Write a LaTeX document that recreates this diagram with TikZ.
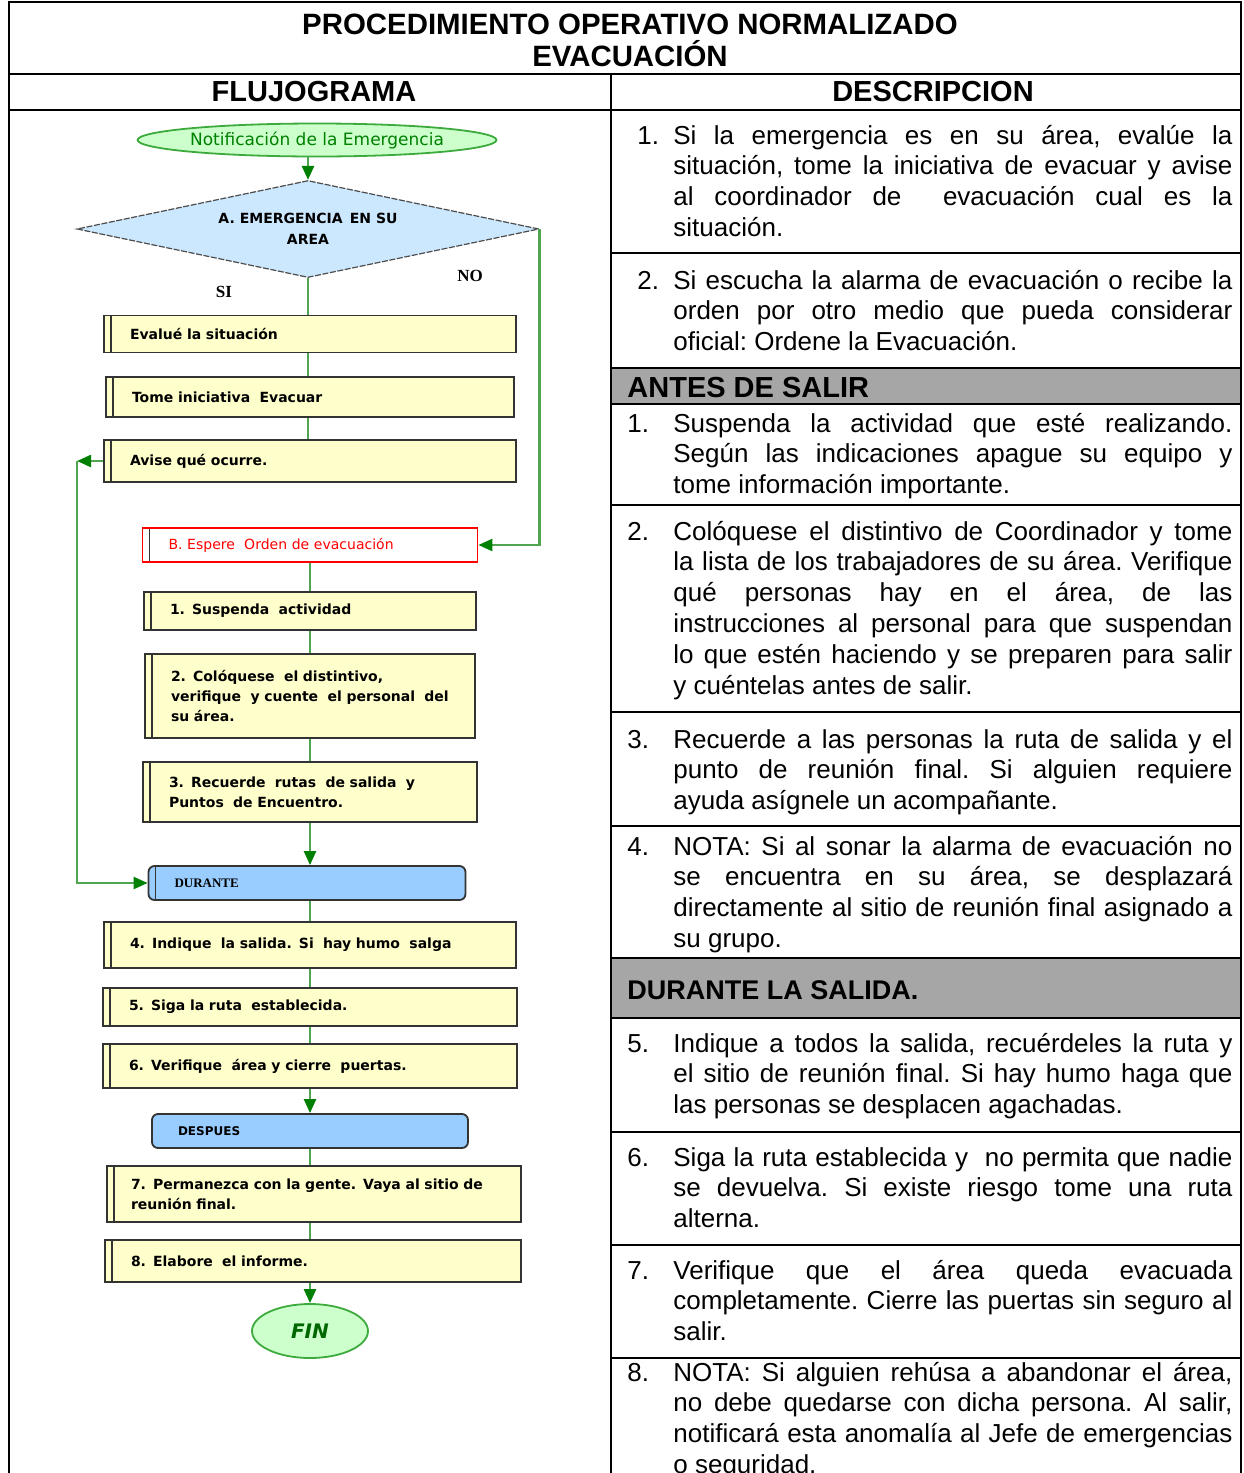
\documentclass[tikz,border=0pt]{standalone}
\usepackage{fontspec}
\setmainfont{Liberation Sans}
\newfontfamily\flowfont{DejaVu Sans}
\newfontfamily\flowserif{Liberation Serif}
\usetikzlibrary{shapes.geometric,arrows.meta}

\definecolor{procyellow}{RGB}{255,255,204}
\definecolor{boxgray}{RGB}{51,51,51}
\definecolor{stageblue}{RGB}{153,204,255}
\definecolor{diamondblue}{RGB}{204,232,255}
\definecolor{termfill}{RGB}{204,255,204}
\definecolor{termgreen}{RGB}{60,170,60}
\definecolor{textgreen}{RGB}{0,128,0}
\definecolor{linegreen}{RGB}{80,165,80}
\definecolor{arrowgreen}{RGB}{0,128,0}
\definecolor{bandgray}{RGB}{166,166,166}

% numbered paragraph with hanging number
\newcommand{\numitem}[3]{\hangindent=#1\hangafter=1\makebox[#1][l]{#2}#3\par}

\tikzset{
  rule/.style={line width=1pt},
  proc/.style={draw=boxgray, fill=procyellow, line width=0.9pt, inner xsep=13pt, inner ysep=2pt,
    text width=#1-26pt, align=left, font=\flowfont\bfseries\fontsize{7}{10}\selectfont,
    path picture={\draw[boxgray, line width=0.6pt]
      ([xshift=3.5pt]path picture bounding box.north west) --
      ([xshift=3.5pt]path picture bounding box.south west);}},
  stage/.style={proc=#1, fill=stageblue, rounded corners=3pt},
  decision/.style={diamond, aspect=4.76, draw=gray!60!black, fill=diamondblue, line width=0.6pt,
    dash pattern=on 3pt off 0.8pt, inner sep=0pt, minimum width=231pt, minimum height=48.5pt,
    align=center, font=\flowfont\bfseries\fontsize{7}{10.5}\selectfont},
  terminal/.style={ellipse, draw=termgreen, fill=termfill, line width=0.9pt, inner sep=0pt},
  flow/.style={draw=linegreen, line width=1.2pt},
  arr/.style={flow, -{Triangle[length=7pt,width=6pt,color=arrowgreen]}},
  lbl/.style={font=\flowserif\bfseries\fontsize{8.5}{10}\selectfont},
  hdr/.style={font=\bfseries\fontsize{14.5}{16}\selectfont},
  band/.style={anchor=base west, inner sep=0pt, font=\bfseries\fontsize{14.5}{16}\selectfont},
  desc/.style={anchor=base west, inner sep=0pt, align=justify, text width=#1,
    font=\fontsize{13}{15.4}\selectfont\frenchspacing},
}

\begin{document}
\begin{tikzpicture}[x=0.5pt, y=-0.5pt]
    \useasboundingbox (0,0) rectangle (1243,1473);

    % table
    \fill[bandgray] (611,368) rectangle (1241,404);
    \fill[bandgray] (611,958) rectangle (1241,1018);
    \draw[rule] (9,1473) -- (9,2) -- (1241,2) -- (1241,1473);
    \draw[rule] (9,74) -- (1241,74);
    \draw[rule] (9,110) -- (1241,110);
    \draw[rule] (611,74) -- (611,1473);
    \foreach \y in {253,368,404,505,712,826,958,1018,1132,1245,1358}
        \draw[rule] (611,\y) -- (1241,\y);

    \node[hdr, align=center, font=\bfseries\fontsize{14.7}{16}\selectfont] (title) at (630,40) {PROCEDIMIENTO OPERATIVO NORMALIZADO\\EVACUACIÓN};
    \node[hdr] (hflujo) at (314,92) {FLUJOGRAMA};
    \node[hdr] (hdesc) at (933,92) {DESCRIPCION};

    % flujograma
    \node[terminal, minimum width=179pt, minimum height=16.5pt,
          font=\flowfont\fontsize{8.5}{10}\selectfont, text=textgreen] (notif) at (317,140) {Notificación de la Emergencia};
    \node[decision] (dia) at (308,229) {A. EMERGENCIA\, EN SU\\AREA};
    \node[proc=206pt, minimum height=18.5pt] (evalue) at (310,334) {Evalué la situación};
    \node[proc=204pt, minimum height=20pt] (tome) at (310,397) {Tome iniciativa\ \ Evacuar};
    \node[proc=206pt, minimum height=21pt] (avise) at (310,461) {Avise qué ocurre.};
    \node[proc=167.5pt, minimum height=17pt, fill=white, draw=red, text=red,
          font=\flowfont\fontsize{7}{10}\selectfont] (espere) at (310,545) {B. Espere\ \ Orden de evacuación};
    \node[proc=166pt, minimum height=19pt] (susp) at (310,611) {1. Suspenda\ \ actividad};
    \node[proc=165pt, minimum height=42pt] (coloq) at (310,696) {2. Colóquese\ \ el distintivo,\\verifique\ \ y cuente\ \ el personal\ \ del\\su área.};
    \node[proc=167pt, minimum height=30pt] (recuerde) at (310,792) {3. Recuerde\ \ rutas\ \ de salida\ \ y\\Puntos\ \ de Encuentro.};
    \node[stage=158.5pt, minimum height=17pt,
          font=\flowserif\bfseries\fontsize{6.5}{8}\selectfont] (durante) at (307,883) {DURANTE};
    \node[proc=206pt, minimum height=23pt] (indique) at (310,945) {4. Indique\ \ la salida. Si\ \ hay humo\ \ salga};
    \node[proc=207pt, minimum height=19pt] (siga) at (310,1007) {5. Siga la ruta\ \ establecida.};
    \node[proc=207pt, minimum height=22pt] (verif) at (310,1066) {6. Verifique\ \ área y cierre\ \ puertas.};
    \node[stage=158pt, minimum height=17pt, path picture={},
          font=\flowfont\bfseries\fontsize{6}{8}\selectfont] (despues) at (310,1131) {DESPUES};
    \node[proc=207pt, minimum height=28pt, inner xsep=12pt, text width=183pt] (perm) at (314,1194) {7. Permanezca con la gente. Vaya al sitio de\\reunión final.};
    \node[proc=208pt, minimum height=21pt] (elab) at (313,1261) {8. Elabore\ \ el informe.};
    \node[terminal, minimum width=58pt, minimum height=27pt,
          font=\flowfont\bfseries\itshape\fontsize{10}{12}\selectfont, text=textgreen!80!black] (fin) at (310,1331) {FIN};

    \node[lbl] (si) at (224,292) {SI};
    \node[lbl] (no) at (470,276) {NO};

    \draw[arr] (dia.north |- notif.south) -- (dia.north);
    \draw[flow] (dia.south) -- (dia.south |- evalue.north);
    \draw[flow] (evalue.south -| dia.south) -- (dia.south |- tome.north);
    \draw[flow] (tome.south -| dia.south) -- (dia.south |- avise.north);
    \draw[arr] (dia.east) |- (espere.east);
    \draw[flow] (espere) -- (susp);
    \draw[flow] (susp) -- (coloq);
    \draw[flow] (coloq) -- (recuerde);
    \draw[arr] (recuerde.south) -- (recuerde.south |- durante.north);
    \draw[flow] (durante.south -| recuerde.south) -- (recuerde.south |- indique.north);
    \draw[flow] (indique) -- (siga);
    \draw[flow] (siga) -- (verif);
    \draw[arr] (verif.south) -- (despues.north);
    \draw[flow] (despues.south) -- (despues.south |- perm.north);
    \draw[flow] (perm.south -| despues.south) -- (despues.south |- elab.north);
    \draw[arr] (elab.south -| fin.north) -- (fin.north);

    \coordinate (lc) at (77,461);
    \draw[arr] (avise.west) -- (lc);
    \draw[arr] (lc) |- (durante.west);

    % descripcion
    \node[desc=297.5pt] (d1) at (637,144) {\numitem{18pt}{1.}{Si la emergencia es en su área, evalúe la\linebreak situación, tome la iniciativa de evacuar y avise\linebreak al coordinador de\ \ evacuación cual es la\linebreak situación.}};
    \node[desc=297.5pt] (d2) at (637,289) {\numitem{18pt}{2.}{Si escucha la alarma de evacuación o recibe la\linebreak orden por otro medio que pueda considerar\linebreak oficial: Ordene la Evacuación.}};
    \node[band] (antes) at (627,397) {ANTES DE SALIR};
    \node[desc=302.5pt] (a1) at (627,432) {\numitem{23pt}{1.}{Suspenda la actividad que esté realizando.\linebreak Según las indicaciones apague su equipo y\linebreak tome información importante.}};
    \node[desc=302.5pt] (a2) at (627,540) {\numitem{23pt}{2.}{Colóquese el distintivo de Coordinador y tome\linebreak la lista de los trabajadores de su área. Verifique\linebreak qué personas hay en el área, de las\linebreak instrucciones al personal para que suspendan\linebreak lo que estén haciendo y se preparen para salir\linebreak y cuéntelas antes de salir.}};
    \node[desc=302.5pt] (a3) at (627,748) {\numitem{23pt}{3.}{Recuerde a las personas la ruta de salida y el\linebreak punto de reunión final. Si alguien requiere\linebreak ayuda asígnele un acompañante.}};
    \node[desc=302.5pt] (a4) at (627,855) {\numitem{23pt}{4.}{NOTA: Si al sonar la alarma de evacuación no\linebreak se encuentra en su área, se desplazará\linebreak directamente al sitio de reunión final asignado a\linebreak su grupo.}};
    \node[band, font=\bfseries\fontsize{13.5}{16}\selectfont] (dursal) at (627,999) {DURANTE LA SALIDA.};
    \node[desc=302.5pt] (s5) at (627,1052) {\numitem{23pt}{5.}{Indique a todos la salida, recuérdeles la ruta y\linebreak el sitio de reunión final. Si hay humo haga que\linebreak las personas se desplacen agachadas.}};
    \node[desc=302.5pt] (s6) at (627,1166) {\numitem{23pt}{6.}{Siga la ruta establecida y\ \ no permita que nadie\linebreak se devuelva. Si existe riesgo tome una ruta\linebreak alterna.}};
    \node[desc=302.5pt] (s7) at (627,1279) {\numitem{23pt}{7.}{Verifique que el área queda evacuada\linebreak completamente. Cierre las puertas sin seguro al\linebreak salir.}};
    \node[desc=302.5pt] (s8) at (627,1381) {\numitem{23pt}{8.}{NOTA: Si alguien rehúsa a abandonar el área,\linebreak no debe quedarse con dicha persona. Al salir,\linebreak notificará esta anomalía al Jefe de emergencias\linebreak o seguridad.}};
\end{tikzpicture}
\end{document}
